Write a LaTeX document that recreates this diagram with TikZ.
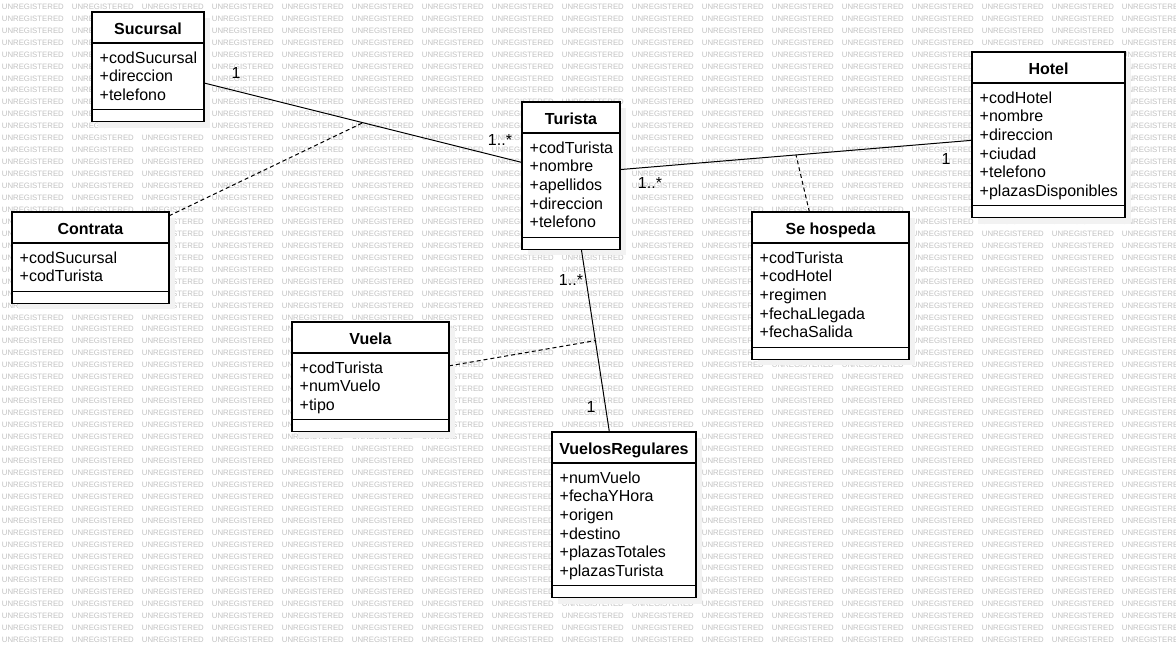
\documentclass[tikz,border=0pt]{standalone}
\usepackage{fontspec}
\setmainfont{Liberation Sans}
\usetikzlibrary{calc,positioning}

% name, x, y, width, rows, title, attributes
\newcommand{\umlclass}[7]{%
  \pgfmathsetmacro{\attrh}{#5*18.7+10.7}
  \pgfmathsetmacro{\boxh}{31+\attrh+12}
  \fill[classshadow] (#2+6,#3+6) rectangle ++(#4,\boxh);
  \node[classbox, minimum width=#4pt, minimum height=\boxh pt,
    anchor=north west] (#1) at (#2,#3) {};
  \draw[classline] ($(#1.north west)+(0,31)$) -- ++(#4,0);
  \draw[classline] ($(#1.north west)+(0,31+\attrh)$) -- ++(#4,0);
  \node[classtitle] (#1-title) at ($(#1.north)+(0,22)$) {#6};
  \foreach \attr [count=\i from 0] in {#7}
    \node[classattr] (#1-a\i) at ($(#1.north west)+(7.5,51+\i*18.7)$) {\attr};
}

\begin{document}
\begin{tikzpicture}[x=1pt,y=-1pt,
  watermark/.style={anchor=base west, inner sep=0pt, text=black!24,
    font=\fontsize{7.8}{9}\selectfont},
  classshadow/.style={fill=black!5},
  classbox/.style={draw, fill=white, line width=1.1pt, inner sep=0pt, outer sep=0pt},
  classline/.style={line width=1.1pt},
  classtitle/.style={anchor=base, inner sep=0pt, font=\bfseries\fontsize{16}{19}\selectfont},
  classattr/.style={anchor=base west, inner sep=0pt, font=\fontsize{16}{19}\selectfont},
  mult/.style={anchor=base, inner sep=0pt, font=\fontsize{16}{19}\selectfont},
  assoc/.style={line width=1pt},
  link/.style={line width=1pt, dash pattern=on 4pt off 3pt}]
  \useasboundingbox (0,0) rectangle (1176,648);
  \fill[white] (0,0) rectangle (1176,648);
  % watermark
  \begin{scope}
    \clip (0,0) rectangle (1176,648);
    \foreach \r in {0,...,53}
      \foreach \c in {0,...,16}
        \node[watermark] (wm-\r-\c) at (1.7+\c*70, 9.3+\r*11.95) {UNREGISTERED};
  \end{scope}
  % classes
  \umlclass{suc}{92}{12}{112}{3}{Sucursal}{+codSucursal,+direccion,+telefono}
  \umlclass{tur}{522}{102}{98}{5}{Turista}
    {+codTurista,+nombre,+apellidos,+direccion,+telefono}
  \umlclass{hotel}{972}{52}{153}{6}{Hotel}
    {+codHotel,+nombre,+direccion,+ciudad,+telefono,+plazasDisponibles}
  \umlclass{con}{12}{212}{157}{2}{Contrata}{+codSucursal,+codTurista}
  \umlclass{hosp}{752}{212}{157}{5}{Se hospeda}
    {+codTurista,+codHotel,+regimen,+fechaLlegada,+fechaSalida}
  \umlclass{vuela}{292}{322}{157}{3}{Vuela}{+codTurista,+numVuelo,+tipo}
  \umlclass{vr}{552}{432}{144}{6}{VuelosRegulares}
    {+numVuelo,+fechaYHora,+origen,+destino,+plazasTotales,+plazasTurista}
  % associations
  \draw[assoc] (suc.-16) -- coordinate[midway] (sucTurMid) (tur.165);
  \draw[assoc] (tur.7) -- coordinate[midway] (turHotelMid) (hotel.184);
  \draw[assoc] (tur.-82) -- coordinate[midway] (turVrMid) (vr.100);
  \draw[link] (con.28) -- (sucTurMid);
  \draw[link] (hosp.106) -- (turHotelMid);
  \draw[link] (vuela.8) -- (turVrMid);
  % multiplicities
  \node[mult] (mSuc) at (236,78) {1};
  \node[mult] (mTurSuc) at (500,145) {1..*};
  \node[mult] (mTurHotel) at (650,188) {1..*};
  \node[mult] (mHotel) at (946,164) {1};
  \node[mult] (mTurVr) at (571,285) {1..*};
  \node[mult] (mVr) at (591,412) {1};
\end{tikzpicture}
\end{document}
